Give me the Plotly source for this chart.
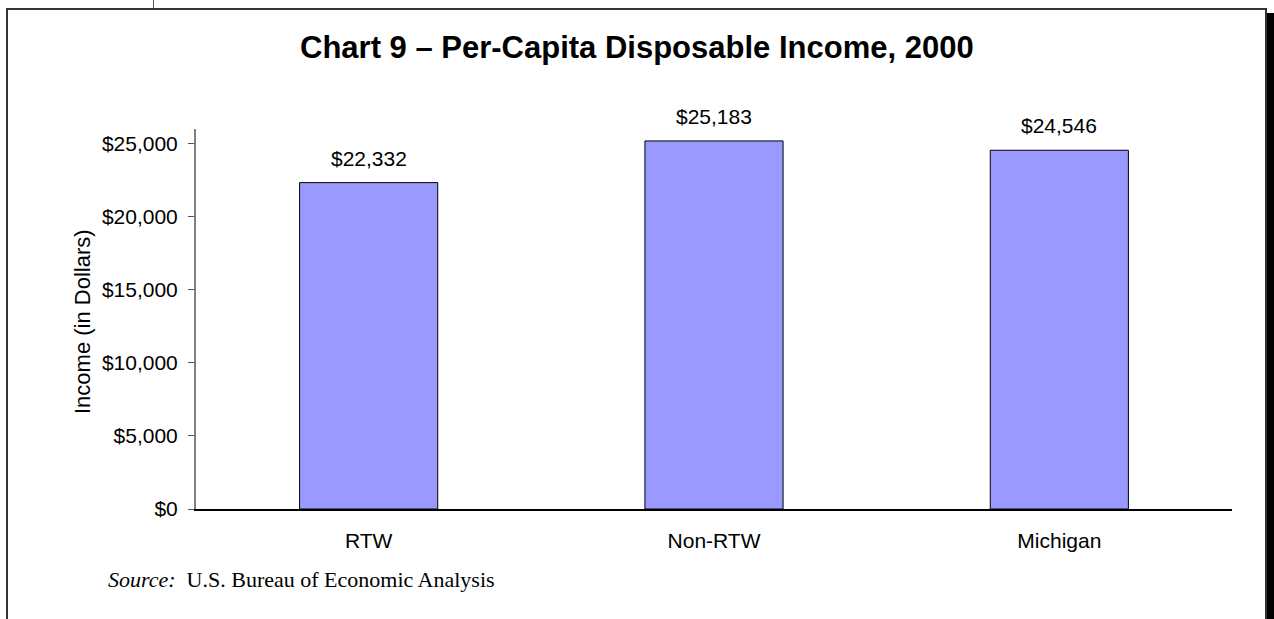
import plotly.graph_objects as go

# Per-capita disposable income, 2000
categories = ["RTW", "Non-RTW", "Michigan"]
income = [22332, 25183, 24546]
tick_values = [0, 5000, 10000, 15000, 20000, 25000]
tick_labels = ["$0", "$5,000", "$10,000", "$15,000", "$20,000", "$25,000"]

W, H = 1274, 619
ML, MR, MT, MB = 196, 42, 129, 110
PW, PH = W - ML - MR, H - MT - MB


def px(x):
    return (x - ML) / PW


def py(y):
    return (MT + PH - y) / PH


fig = go.Figure(
    go.Bar(
        x=categories,
        y=income,
        width=0.4,
        marker=dict(color="#9999FF", line=dict(color="#000000", width=1)),
        hoverinfo="skip",
    )
)

# value labels above the bars
for c, v in zip(categories, income):
    fig.add_annotation(
        x=c, y=v, text=f"${v:,}", showarrow=False,
        yanchor="bottom", yshift=11,
        font=dict(family="Liberation Sans, Arial", size=21, color="#000000"),
    )

fig.add_annotation(
    xref="paper", yref="paper", x=px(637), y=py(47),
    text="<b>Chart 9 – Per-Capita Disposable Income, 2000</b>",
    showarrow=False, xanchor="center", yanchor="middle",
    font=dict(family="Liberation Sans, Arial", size=31, color="#000000"),
)

fig.add_annotation(
    xref="paper", yref="paper", x=px(82), y=py(322),
    text="Income (in Dollars)", textangle=-90,
    showarrow=False, xanchor="center", yanchor="middle",
    font=dict(family="Liberation Sans, Arial", size=22, color="#000000"),
)

fig.add_annotation(
    xref="paper", yref="paper", x=px(106), y=py(579),
    text="<i>Source:</i>&nbsp; U.S. Bureau of Economic Analysis",
    showarrow=False, xanchor="left", yanchor="middle",
    font=dict(family="Liberation Serif, Times New Roman", size=22, color="#000000"),
)

# outer frame with drop shadow on the right
shapes = [
    dict(type="rect", xref="paper", yref="paper",
         x0=px(1267), x1=px(1275), y0=py(13), y1=py(640),
         fillcolor="#000000", line=dict(width=0), layer="above"),
    dict(type="rect", xref="paper", yref="paper",
         x0=px(7), x1=px(1266), y0=py(9), y1=py(640),
         fillcolor="rgba(0,0,0,0)", line=dict(color="#333333", width=2)),
    dict(type="line", xref="paper", yref="paper",
         x0=px(153.5), x1=px(153.5), y0=py(0), y1=py(8),
         line=dict(color="#555555", width=1)),
]

fig.update_layout(
    width=W, height=H,
    margin=dict(l=ML, r=MR, t=MT, b=MB, pad=0),
    paper_bgcolor="#FFFFFF", plot_bgcolor="#FFFFFF",
    showlegend=False,
    shapes=shapes,
    bargap=0.6,
    xaxis=dict(
        showgrid=False, zeroline=False,
        showline=True, linecolor="#000000", linewidth=1.5,
        ticks="", ticklabelstandoff=12,
        tickfont=dict(family="Liberation Sans, Arial", size=21, color="#000000"),
    ),
    yaxis=dict(
        range=[0, 26000], showgrid=False, zeroline=False,
        showline=True, linecolor="#808080", linewidth=2,
        ticks="outside", ticklen=6, tickcolor="#555555", tickwidth=1,
        tickvals=tick_values, ticktext=tick_labels, ticklabelstandoff=6,
        tickfont=dict(family="Liberation Sans, Arial", size=21, color="#000000"),
    ),
)

fig.write_html("out.html")
